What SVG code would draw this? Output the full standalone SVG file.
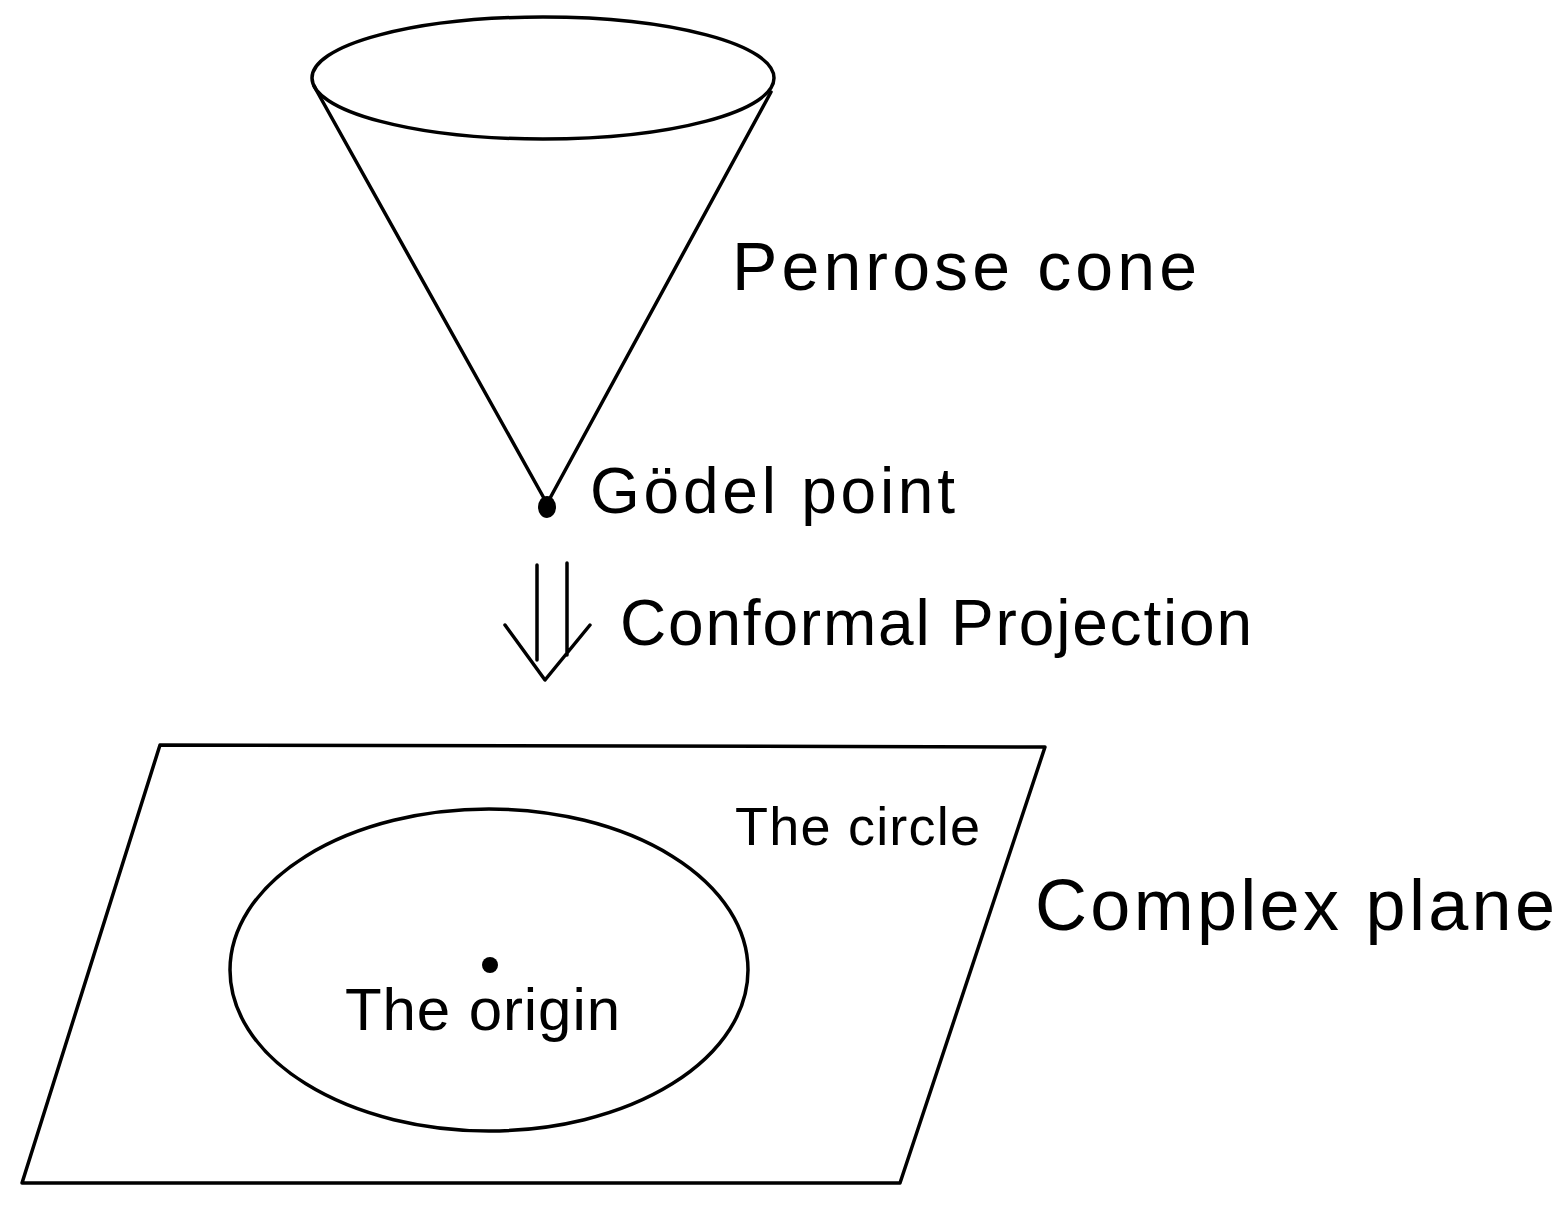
<svg xmlns="http://www.w3.org/2000/svg" width="1568" height="1212" viewBox="0 0 1568 1212">
<style>
.s{fill:none;stroke:#000;stroke-width:3.5;stroke-linejoin:round;stroke-linecap:round}
text{font-family:"Liberation Sans",Arial,sans-serif;fill:#000}
</style>
<rect width="1568" height="1212" fill="#fff"/>
<g id="cone">
<ellipse class="s" cx="543" cy="78" rx="231" ry="61"/>
<path class="s" d="M314,86 L545,500 M771,92 L549,500"/>
<ellipse cx="547" cy="507" rx="9" ry="11"/>
<text x="732" y="290" font-size="68" textLength="465">Penrose cone</text>
<text x="590" y="513" font-size="64" textLength="365">Gödel point</text>
</g>
<g id="connectors">
<path class="s" d="M537,565 L537,660 M567,563 L567,655 M505,625 L545,680 L590,625"/>
<text x="620" y="645" font-size="64" textLength="632">Conformal Projection</text>
</g>
<g id="plane">
<path class="s" d="M160,745 L1045,747 L900,1183 L22,1183 Z"/>
<ellipse class="s" cx="489" cy="970" rx="259" ry="161"/>
<circle cx="490" cy="965" r="8"/>
<text x="735" y="845" font-size="54" textLength="245">The circle</text>
<text x="345" y="1030" font-size="60" textLength="275">The origin</text>
<text x="1035" y="930" font-size="72" textLength="520">Complex plane</text>
</g>
</svg>
